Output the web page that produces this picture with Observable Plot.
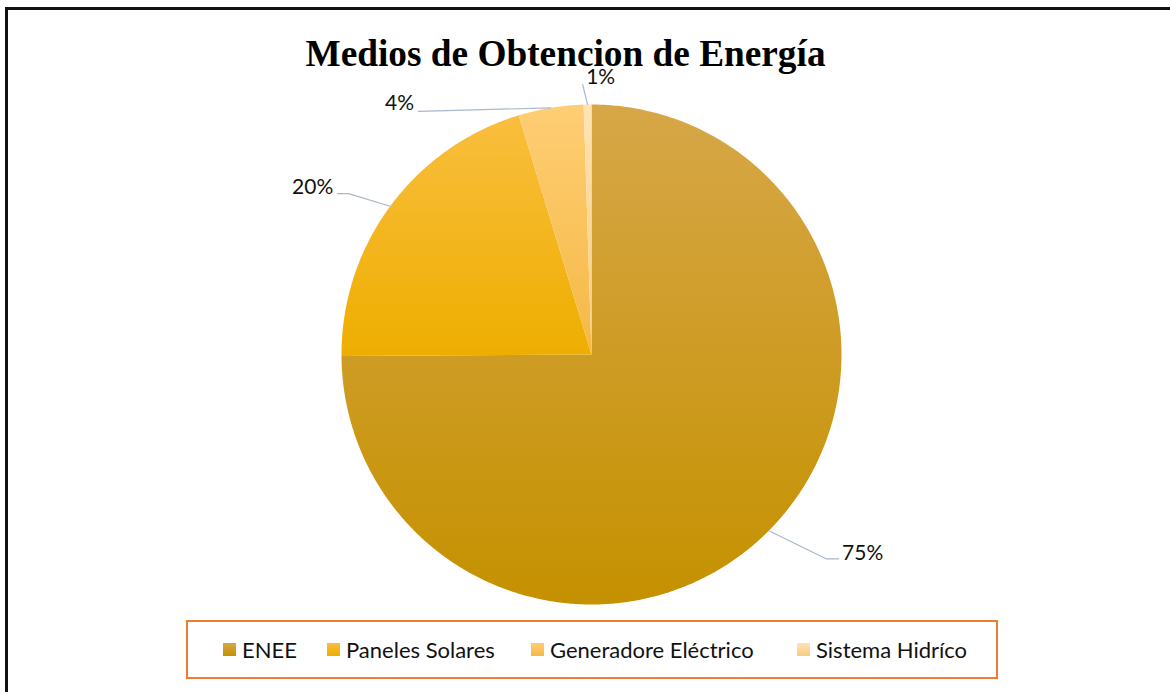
<!DOCTYPE html>
<html>
<head>
<meta charset="utf-8">
<script src="https://cdn.jsdelivr.net/npm/d3@7"></script>
<script src="https://cdn.jsdelivr.net/npm/@observablehq/plot@0.6"></script>
<style>
  html, body { margin: 0; padding: 0; background: #fff; }
  #wrap { position: relative; width: 1170px; height: 692px; overflow: hidden; background: #fff; }
  #frame { position: absolute; left: 5px; top: 7px; width: 1200px; height: 720px;
           border-top: 3px solid #111; border-left: 3px solid #111; }
  #chart { position: absolute; left: 0; top: 0; }
  #title { position: absolute; left: 0; top: 35px; width: 1131px; text-align: center;
           font: bold 37.3px/37px "Liberation Serif", "Times New Roman", serif; color: #000; white-space: nowrap; }
  #legend { position: absolute; left: 186px; top: 620px; width: 812px; height: 59px; box-sizing: border-box;
            border: 2px solid #ED7D31;
            font: 22px Lato, "Open Sans", sans-serif; color: #111; }
  .item { position: absolute; top: 0; height: 55px; display: flex; align-items: center; white-space: nowrap; }
  .sw { width: 13px; height: 13px; margin-right: 6px; }
</style>
</head>
<body>
<div id="wrap">
  <div id="frame"></div>
  <div id="chart"></div>
  <div id="title"></div>
  <div id="legend"></div>
</div>
<script>
// ---- data ----
const chartTitle = "Medios de Obtencion de Energía";
const categories = ["ENEE", "Paneles Solares", "Generadore Eléctrico", "Sistema Hidríco"];
const shares = [74.9, 20.4, 4.2, 0.5];
const pctLabels = ["75%", "20%", "4%", "1%"];

// ---- styles / layout ----
const gradTop = ["#D7A748", "#F9BE3E", "#FFCE74", "#FFE3B4"];
const gradBottom = ["#C59100", "#EEAE00", "#F4B845", "#F6CC80"];
const leaderColor = "#A9B8CB";
const CX = 591, CY = 354, R = 250;
// label placement: polar angle (deg, clockwise from top) and radius from centre
const labelAngle = [126.2, 300.9, 322.6, 1.9];
const labelRadius = [336, 325, 316, 277];
// leader line: elbow and end offsets relative to label centre
const leaderEnd = [[-24, 6], [25, 6], [19, 8], [-18, 7]];
const leaderElbow = [[-36, 6], [36, 6], [19, 8], [-18, 7]];
// legend item left offsets inside the legend box
const legendItemLeft = [35, 139, 343, 609];

const rows = categories.map((name, i) => ({name, share: shares[i], label: pctLabels[i], i}));
const arcs = d3.pie().sort(null).value(d => d.share)(rows);
const polar = (a, r) => [CX + r * Math.sin(a), CY - r * Math.cos(a)];

// slice outlines
const slicePts = [];
arcs.forEach(a => {
  const name = a.data.name;
  slicePts.push({name, x: CX, y: CY});
  const n = Math.max(2, Math.ceil((a.endAngle - a.startAngle) * 180 / Math.PI * 2));
  for (let k = 0; k <= n; k++) {
    const t = a.startAngle + (a.endAngle - a.startAngle) * k / n;
    const [x, y] = polar(t, R);
    slicePts.push({name, x, y});
  }
  slicePts.push({name, x: CX, y: CY});
});

// labels and leaders
const labelRows = [];
const leaderPts = [];
arcs.forEach((a, i) => {
  const mid = (a.startAngle + a.endAngle) / 2;
  const [lx, ly] = polar(labelAngle[i] * Math.PI / 180, labelRadius[i]);
  labelRows.push({x: lx, y: ly, text: a.data.label});
  const [ex, ey] = polar(mid, R);
  leaderPts.push({k: i, x: ex, y: ey});
  leaderPts.push({k: i, x: lx + leaderElbow[i][0], y: ly + leaderElbow[i][1]});
  leaderPts.push({k: i, x: lx + leaderEnd[i][0], y: ly + leaderEnd[i][1]});
});

const plot = Plot.plot({
  width: 1170, height: 692, margin: 0,
  x: {domain: [0, 1170], range: [0, 1170], axis: null},
  y: {domain: [0, 692], range: [0, 692], axis: null},
  color: {type: "ordinal", domain: categories, range: categories.map((c, i) => `url(#slice-grad-${i})`)},
  style: {background: "transparent", overflow: "visible"},
  marks: [
    Plot.line(slicePts, {x: "x", y: "y", z: "name", fill: "name", stroke: null, curve: "linear"}),
    Plot.line(leaderPts, {x: "x", y: "y", z: "k", stroke: leaderColor, strokeWidth: 1.2}),
    Plot.text(labelRows, {x: "x", y: "y", text: "text", fontSize: 21, fontFamily: "Lato, 'Open Sans', sans-serif", fill: "#111", textAnchor: "middle"})
  ]
});

// gradients
const svg = d3.select(plot);
const defs = svg.insert("defs", ":first-child");
categories.forEach((c, i) => {
  const g = defs.append("linearGradient").attr("id", `slice-grad-${i}`)
    .attr("x1", 0).attr("y1", 0).attr("x2", 0).attr("y2", 1);
  g.append("stop").attr("offset", "0%").attr("stop-color", gradTop[i]);
  g.append("stop").attr("offset", "100%").attr("stop-color", gradBottom[i]);
});
document.getElementById("chart").appendChild(plot);
document.getElementById("title").textContent = chartTitle;

// legend
const legend = d3.select("#legend");
categories.forEach((c, i) => {
  const it = legend.append("div").attr("class", "item").style("left", legendItemLeft[i] + "px");
  it.append("div").attr("class", "sw").style("background", `linear-gradient(${gradTop[i]}, ${gradBottom[i]})`);
  it.append("span").text(c);
});
</script>
</body>
</html>
